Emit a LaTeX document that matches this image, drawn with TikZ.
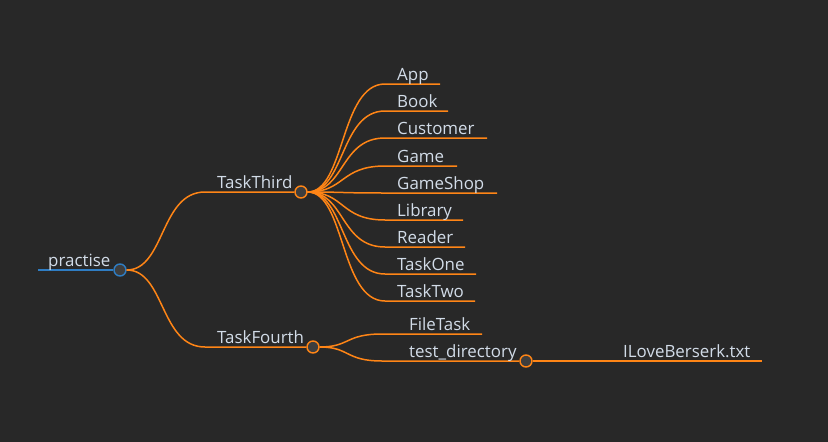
\documentclass[tikz,border=0pt]{standalone}
\usepackage{fontspec}
\setmainfont{Open Sans}
\usepackage{tikz}
\definecolor{bg}{HTML}{282828}
\definecolor{branch}{HTML}{FF8516}
\definecolor{rootblue}{HTML}{2F7DC3}
\definecolor{txt}{HTML}{D2DCE8}
\definecolor{knob}{HTML}{3E3E3E}
\tikzset{
  lbl/.style={text=txt, anchor=base west, inner sep=0pt, font=\fontsize{16.9}{18}\selectfont},
  knot/.style={circle, draw=branch, fill=knob, line width=1.4pt, minimum size=12pt, inner sep=0pt},
  twig/.style={draw=branch, line width=1.5pt},
}

\begin{document}
\begin{tikzpicture}[x=1pt,y=-1pt]
				\fill[bg] (0,0) rectangle (828,442);
				\useasboundingbox (0,0) rectangle (828,442);
				% root
				\coordinate (rootL) at (38,270);
				\node[knot, draw=rootblue] (root) at (120,270) {};
				\draw[rootblue, line width=1.5pt] (rootL) -- (root.west);
				\node[lbl] (practise) at (48,266) {practise};
				% first level
				\coordinate (thirdL) at (205,192);
				\coordinate (fourthL) at (205,347);
				\node[knot] (third) at (301,192) {};
				\node[knot] (fourth) at (313,347) {};
				\draw[twig] (root.east) .. controls (165,270) and (160,192) .. (thirdL) -- (third.west);
				\draw[twig] (root.east) .. controls (165,270) and (160,347) .. (fourthL) -- (fourth.west);
				\node[lbl] (taskthird) at (217,188.5) {TaskThird};
				\node[lbl] (taskfourth) at (217,343.5) {TaskFourth};
				% children of TaskThird
				\coordinate (appL) at (385,84);       \coordinate (appR) at (440,84);
				\coordinate (bookL) at (385,111);     \coordinate (bookR) at (448,111);
				\coordinate (custL) at (385,138);     \coordinate (custR) at (487,138);
				\coordinate (gameL) at (385,166);     \coordinate (gameR) at (457,166);
				\coordinate (shopL) at (385,193);     \coordinate (shopR) at (497,193);
				\coordinate (libL) at (385,220);      \coordinate (libR) at (463,220);
				\coordinate (readL) at (385,247);     \coordinate (readR) at (465,247);
				\coordinate (oneL) at (385,274);      \coordinate (oneR) at (476,274);
				\coordinate (twoL) at (385,301);      \coordinate (twoR) at (475,301);
				\draw[twig] (third.east) .. controls (345,192) and (340,84) .. (appL) -- (appR);
				\draw[twig] (third.east) .. controls (345,192) and (340,111) .. (bookL) -- (bookR);
				\draw[twig] (third.east) .. controls (345,192) and (340,138) .. (custL) -- (custR);
				\draw[twig] (third.east) .. controls (345,192) and (340,166) .. (gameL) -- (gameR);
				\draw[twig] (third.east) .. controls (345,192) and (340,193) .. (shopL) -- (shopR);
				\draw[twig] (third.east) .. controls (345,192) and (340,220) .. (libL) -- (libR);
				\draw[twig] (third.east) .. controls (345,192) and (340,247) .. (readL) -- (readR);
				\draw[twig] (third.east) .. controls (345,192) and (340,274) .. (oneL) -- (oneR);
				\draw[twig] (third.east) .. controls (345,192) and (340,301) .. (twoL) -- (twoR);
				\node[lbl] (app) at (397,80.5) {App};
				\node[lbl] (book) at (397,107.5) {Book};
				\node[lbl] (customer) at (397,134.5) {Customer};
				\node[lbl] (game) at (397,162.5) {Game};
				\node[lbl] (gameshop) at (397,189.5) {GameShop};
				\node[lbl] (library) at (397,216.5) {Library};
				\node[lbl] (reader) at (397,243.5) {Reader};
				\node[lbl] (taskone) at (397,270.5) {TaskOne};
				\node[lbl] (tasktwo) at (397,297.5) {TaskTwo};
				% children of TaskFourth
				\coordinate (fileL) at (382,334);     \coordinate (fileR) at (482,334);
				\coordinate (dirL) at (382,361);
				\node[knot] (dir) at (526,361) {};
				\coordinate (berserkR) at (762,361);
				\draw[twig] (fourth.east) .. controls (350,347) and (345,334) .. (fileL) -- (fileR);
				\draw[twig] (fourth.east) .. controls (350,347) and (345,361) .. (dirL) -- (dir.west);
				\draw[twig] (dir.east) -- (berserkR);
				\node[lbl] (filetask) at (409,330.5) {FileTask};
				\node[lbl] (testdir) at (409,357.5) {test\_directory};
				\node[lbl] (berserk) at (623,357.5) {ILoveBerserk.txt};
		\end{tikzpicture}
\end{document}
